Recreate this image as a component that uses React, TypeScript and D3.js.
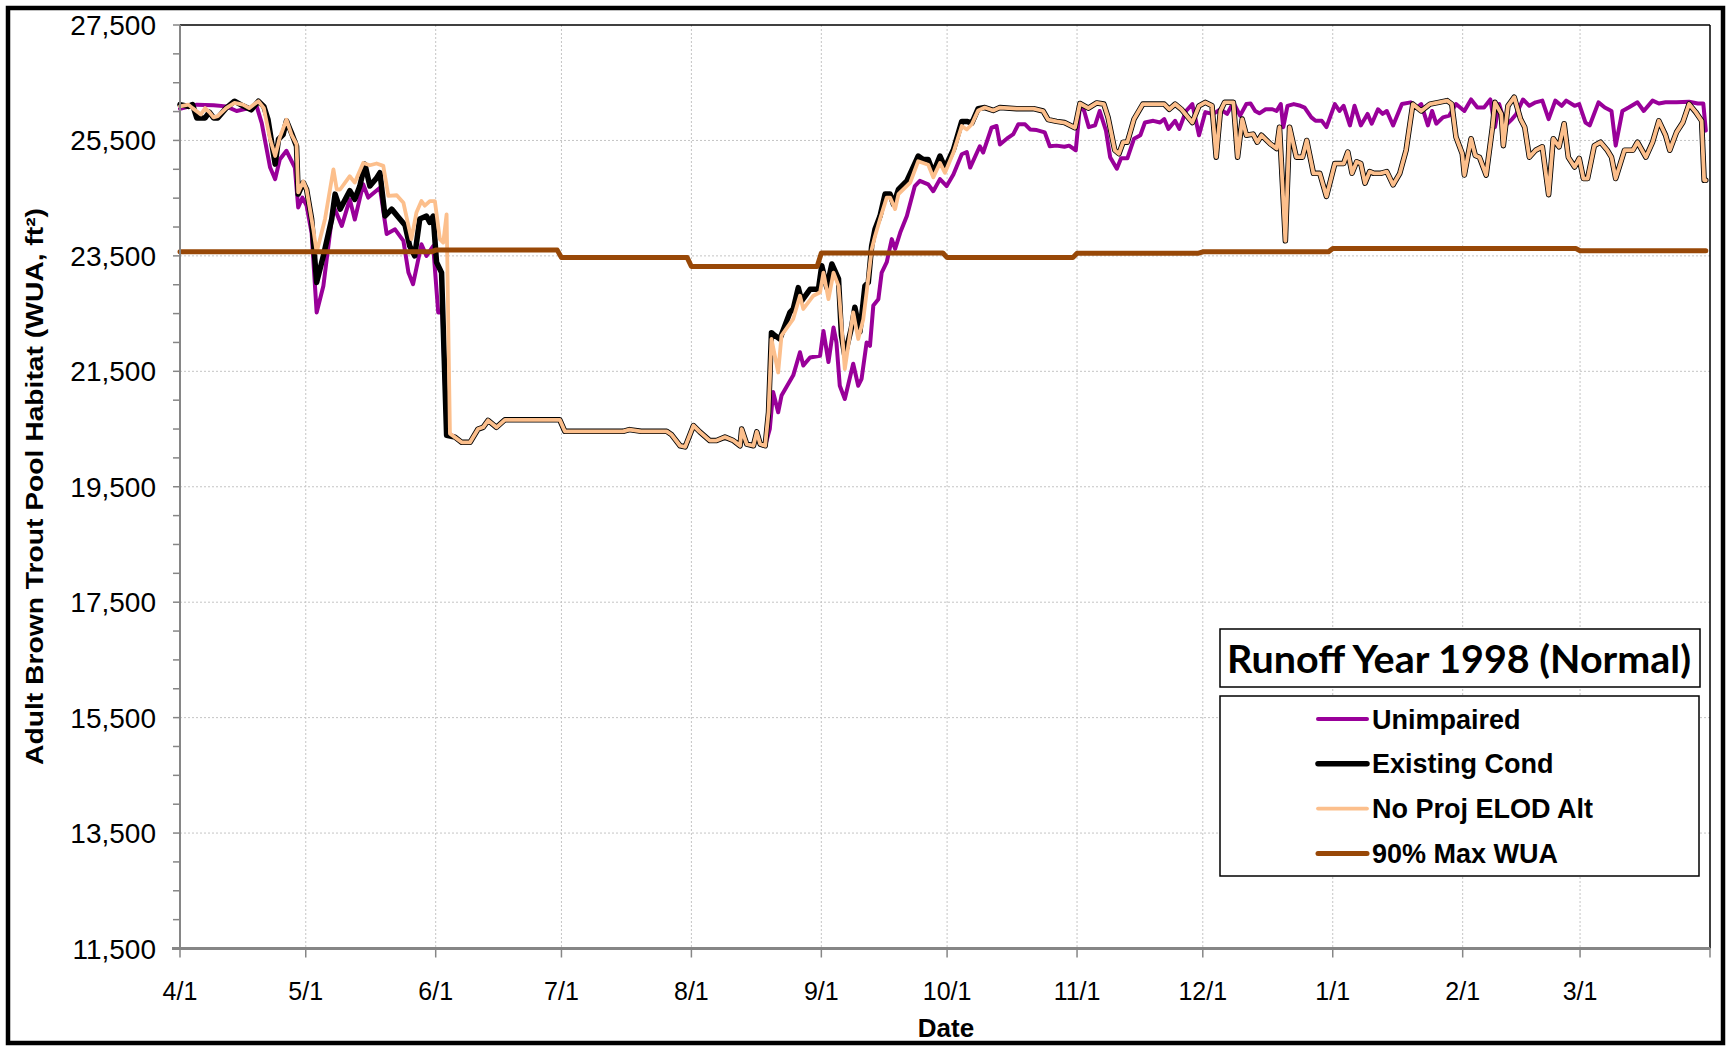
import React from 'react';
import * as d3 from 'd3';

type Pt = [number, number]; // [days since 4/1/1998, WUA ft²]

// --- data (day offset from 4/1, value) ---
const unimpairedSpring: Pt[] = [
  [0, 26050], [4, 26120], [8, 26110], [11, 26090], [13.5, 26010], [16.5, 26060], [18.3, 26090],
  [19.5, 25800], [21.5, 25030], [22.7, 24830], [23.8, 25170], [25.4, 25320], [27.4, 25030],
  [28.2, 24340], [29.2, 24510], [30.2, 24370], [31.4, 23900], [32.6, 22520], [34.2, 22980],
  [36.6, 24370], [38.6, 24020], [40.5, 24480], [41.7, 24130], [43.7, 24740], [44.9, 24510],
  [47.7, 24680], [49.3, 23880], [51.3, 23960], [53.3, 23760], [54.5, 23210], [55.6, 23010],
  [57.6, 23700], [58.8, 23500], [60.4, 23670], [61.6, 22520], [62.6, 22520], [63.6, 20450],
];

const existingSpring: Pt[] = [
  [0, 26120], [2, 26090], [3, 26120], [4, 25890], [6, 25890], [7, 25990], [8, 25890], [9, 25890],
  [11, 26060], [13, 26180], [15, 26100], [17, 26030], [18.7, 26180], [20, 26090], [21, 25860],
  [22.7, 25090], [23.5, 25520], [24.6, 25600], [25.4, 25840], [26.6, 25630], [27.8, 25400],
  [28.2, 24570], [29.4, 24770], [30.2, 24650], [31.4, 24140], [32.6, 23040], [34.2, 23500],
  [36.2, 24140], [37, 24570], [38.2, 24310], [40.5, 24630], [41.7, 24480], [42.9, 24710],
  [44.1, 25090], [45.3, 24710], [46.9, 24850], [47.7, 24940], [48.9, 24190], [50.5, 24310],
  [52.1, 24170], [53.7, 24030], [54.8, 23670], [56, 23500], [57.2, 24140], [58.8, 24190],
  [59.6, 24080], [60.4, 24190], [61.2, 23390], [62.4, 23210], [63.6, 20390],
];

const noProjSpring: Pt[] = [
  [0, 26090], [2, 26120], [3, 26060], [5, 25950], [6, 26060], [7, 25990], [8, 25900], [9, 25920],
  [11, 26060], [13, 26150], [15, 26120], [16.5, 26060], [18.7, 26180], [20, 26060], [21.5, 25520],
  [22.7, 25230], [23.8, 25550], [25.4, 25860], [26.6, 25600], [27.8, 25430], [28.2, 24600],
  [29.4, 24790], [30.2, 24650], [31.8, 23960], [32.6, 23560], [34.6, 24140], [36.6, 25000],
  [37.4, 24650], [38.2, 24650], [40.5, 24880], [41.7, 24770], [43.7, 25110], [45.3, 25070],
  [46.9, 25100], [48.5, 25060], [49.7, 24540], [51.7, 24550], [53.3, 24420], [55.2, 23790],
  [56.4, 24250], [57.6, 24450], [58.4, 24370], [59.6, 24450], [60.8, 24450], [62, 23790],
  [62.8, 23730], [63.6, 24220], [64.4, 20420],
];

// all three flow series sit on top of each other through the summer
const summerLow: Pt[] = [
  [65.6, 20360], [67.2, 20270], [69.2, 20270], [71.1, 20500], [72.3, 20530], [73.5, 20650],
  [75.5, 20530], [77.5, 20660], [90.6, 20660], [91.8, 20460], [105.7, 20460], [107.2, 20490],
  [110, 20460], [116.1, 20460], [117.3, 20400], [119.3, 20210], [120.5, 20190], [122.5, 20560],
  [124, 20450], [126.4, 20300], [128, 20300], [130, 20360], [132, 20300], [133.6, 20210],
  [134, 20500], [135.2, 20240], [136.8, 20210], [137.6, 20450], [138.4, 20240], [139.6, 20210],
];

const existingFall: Pt[] = [
  [140.4, 20790], [141.1, 22170], [141.9, 22120], [143.1, 22060], [144.3, 22290], [145.5, 22520],
  [146.3, 22580], [147.5, 22950], [148.3, 22720], [150.3, 22920], [152.3, 22920], [153.1, 23330],
  [154.3, 22950], [155.5, 23360], [157.1, 23100], [157.8, 22120], [158.6, 21770], [160.2, 22260],
  [161, 22610], [162.2, 22180], [163.4, 22980], [164.2, 23040], [165, 23670], [165.8, 23960],
  [167, 24190], [168.2, 24570], [169.4, 24570], [170.2, 24390], [171.4, 24650], [173.4, 24800],
  [174.5, 24970], [176.1, 25230], [177.3, 25170], [178.5, 25170], [179.7, 24940], [181.3, 25230],
  [182.5, 25030], [184.5, 25340], [186.5, 25830], [187.7, 25830], [188.9, 25800], [190.4, 26050],
];

const noProjFall: Pt[] = [
  [140.4, 20790], [141.1, 22060], [142.7, 21480], [143.5, 22120], [146.3, 22410], [147.9, 22810],
  [148.7, 22580], [151.1, 22810], [152.7, 22870], [153.5, 23210], [154.7, 22750], [155.9, 23210],
  [157.1, 22980], [158.6, 21540], [160.6, 22520], [161.8, 22060], [163, 22400], [163.8, 22870],
  [165, 23610], [165.8, 23840], [167, 24140], [168.6, 24510], [169.4, 24510], [170.6, 24310],
  [171.4, 24570], [174.2, 24770], [176.1, 25140], [178.5, 25080], [179.7, 24860], [181.3, 25110],
  [182.5, 24940], [184.5, 25290], [186.5, 25750], [187.7, 25690], [188.9, 25780], [190.4, 26020],
];

// existing and no-project lines coincide from October on
const regulatedWinter: Pt[] = [
  [192, 26070], [194, 26020], [195.6, 26070], [199.6, 26050], [203.6, 26050], [205.9, 26010],
  [207.1, 25860], [209.1, 25830], [211, 25810], [213.5, 25720], [214.7, 26140], [216.7, 26060],
  [218.7, 26150], [220.4, 26130], [221.4, 25900], [223, 25330], [224, 25270], [225, 25470],
  [226, 25470], [227.6, 25870], [229.7, 26130], [234.8, 26130], [236, 26040], [237.4, 26130],
  [238.9, 26040], [241.5, 25810], [243.1, 26100], [244.6, 26160], [246.2, 26100], [247.2, 25210],
  [248.2, 26010], [249.2, 26160], [251.3, 26160], [252.3, 25210], [253.4, 25870], [254.4, 25590],
  [256, 25610], [257, 25470], [258, 25590], [260.1, 25440], [261.6, 25360], [262.3, 25730],
  [263.7, 23760], [264.7, 25730], [266.3, 25210], [267.8, 25210], [268.8, 25500], [270.4, 24930],
  [271.9, 24930], [273.5, 24530], [275.5, 25100], [277.6, 25100], [278.6, 25300], [279.6, 24930],
  [280.7, 25130], [281.7, 25100], [282.7, 24760], [283.8, 24960], [284.8, 24930], [286.4, 24930],
  [287.9, 24960], [289.4, 24730], [291, 24930], [292.5, 25330], [294.1, 26130], [296.1, 26010],
  [298.2, 26130], [300.3, 26160], [302.3, 26190], [303.4, 26130], [304.4, 25560], [305.9, 25270],
  [306.4, 24900], [308, 25530], [309, 25240], [310, 25210], [311.6, 24900], [313.1, 25730],
  [313.7, 26160], [315.2, 25960], [315.7, 25410], [316.8, 26100], [318.3, 26250], [319.8, 25870],
  [320.8, 25730], [321.9, 25210], [323.4, 25330], [325, 25390], [326.5, 24560], [327.6, 25530],
  [329, 25390], [330.2, 25790], [331.2, 25210], [332.7, 25040], [333.8, 25190], [334.8, 24840],
  [335.8, 24840], [337.4, 25410], [338.9, 25470], [340.5, 25330], [341.5, 25210], [342.5, 24840],
  [344.6, 25330], [346.6, 25330], [347.7, 25470], [349.7, 25210], [351.3, 25470], [352.8, 25840],
  [354.4, 25590], [355.4, 25330], [357, 25640], [358.5, 25810], [360, 26130], [361.6, 25990],
  [363, 25840], [363.6, 24810], [364, 24810],
];

const unimpairedFallWinter: Pt[] = [
  [140.7, 20500], [141.5, 21140], [142.7, 20790], [143.5, 21080], [146.3, 21430], [147.9, 21830],
  [148.7, 21600], [150.3, 21740], [152.7, 21770], [153.5, 22200], [154.7, 21660], [155.9, 22260],
  [156.6, 22000], [157.4, 21250], [158.6, 21020], [160.6, 21630], [161.8, 21250], [162.6, 21370],
  [163.8, 22000], [164.6, 21940], [165.4, 22640], [166.6, 22750], [167.4, 23210], [168.6, 23390],
  [169.8, 23790], [170.6, 23620], [171.8, 23900], [173.4, 24190], [175.3, 24710], [176.5, 24800],
  [178.5, 24740], [179.7, 24620], [181.3, 24830], [182.9, 24710], [184.5, 24910], [186.5, 25260],
  [187.7, 25300], [188.5, 25030], [190.8, 25400], [191.6, 25290], [193.6, 25720], [194.8, 25750],
  [195.6, 25430], [197.6, 25550], [198.8, 25610], [200, 25780], [201.6, 25780], [202.8, 25690],
  [204.4, 25680], [206.3, 25640], [207.5, 25400], [209.1, 25410], [211, 25390], [212.1, 25410],
  [213.7, 25330], [214.7, 26100], [215.7, 26010], [216.8, 25730], [218.3, 25760], [219.4, 26010],
  [220.9, 25670], [221.9, 25210], [223.5, 25010], [224.5, 25190], [226, 25190], [227.6, 25530],
  [229.1, 25590], [230.2, 25810], [232.2, 25840], [233.8, 25810], [234.8, 25870], [235.8, 25700],
  [237.4, 25840], [238.4, 25700], [240, 26010], [241.5, 26130], [243.1, 25590], [244.6, 25990],
  [246.2, 25960], [247.2, 25990], [248.2, 26040], [249.8, 25960], [251.3, 26160], [252.9, 25930],
  [254.4, 26130], [255.4, 26140], [256.5, 26010], [257.5, 25970], [259, 26040], [260.6, 26040],
  [261.6, 26010], [262.6, 26130], [263.2, 25730], [264.2, 26100], [265.7, 26130], [267.3, 26100],
  [268.3, 26070], [269.9, 25900], [270.9, 25840], [272.4, 25840], [273.5, 25730], [275.5, 26130],
  [276.6, 26010], [277.6, 26100], [279.1, 25760], [280.2, 26100], [281.7, 25760], [283.3, 25960],
  [284.3, 25790], [285.8, 26040], [286.9, 25960], [287.9, 26010], [289.4, 25760], [291.5, 26130],
  [293.6, 26160], [295.1, 26070], [296.1, 26130], [297.7, 25760], [298.7, 26010], [299.7, 25790],
  [301.3, 25900], [302.8, 25930], [304.4, 26130], [306.4, 26010], [308, 26210], [309.5, 26070],
  [311.1, 26070], [312.6, 26210], [313.7, 25730], [314.7, 26130], [316.2, 25760], [317.8, 25870],
  [318.8, 25960], [320.4, 26210], [321.9, 26100], [323.4, 26160], [325, 26190], [326.5, 25870],
  [328.1, 26190], [329.6, 26100], [330.7, 26190], [332.7, 26100], [333.8, 26130], [335.3, 25810],
  [336.3, 25760], [338.4, 26160], [339.9, 26070], [341.5, 26010], [342.5, 25410], [344.1, 26010],
  [345.6, 26070], [347.7, 26160], [349.2, 26010], [351.3, 26190], [352.8, 26140], [354.4, 26160],
  [357, 26160], [360, 26170], [362.1, 26140], [363.4, 26140], [364, 25670],
];

// 90% of max WUA, one value per month (Apr .. Mar)
const monthStartDays = [0, 30, 61, 91, 122, 153, 183, 214, 244, 275, 306, 334, 365];
const maxWuaMonthly = [23570, 23570, 23600, 23470, 23315, 23550, 23470, 23546, 23570, 23626, 23626, 23590];

const yMajorTicks = [11500, 13500, 15500, 17500, 19500, 21500, 23500, 25500, 27500];
const legendLabels = ['Unimpaired', 'Existing Cond', 'No Proj ELOD Alt', '90% Max WUA'];

const unimpaired = [...unimpairedSpring, ...summerLow, ...unimpairedFallWinter];
const existing = [...existingSpring, ...summerLow, ...existingFall, ...regulatedWinter];
const noProj = [...noProjSpring, ...summerLow.slice(1), ...noProjFall, ...regulatedWinter];
const maxWua: Pt[] = maxWuaMonthly.flatMap((v, i) => [
  [monthStartDays[i], v] as Pt,
  [Math.min(monthStartDays[i + 1] - 1, 364), v] as Pt,
]);

const series = [
  { label: legendLabels[0], data: unimpaired, color: '#990099', width: 4 },
  { label: legendLabels[1], data: existing, color: '#000000', width: 5.5 },
  { label: legendLabels[2], data: noProj, color: '#FCBF8C', width: 3.8 },
  { label: legendLabels[3], data: maxWua, color: '#984807', width: 5 },
];

const DAY = 86400000;
const t0 = Date.UTC(1998, 3, 1);
const t1 = Date.UTC(1999, 3, 1);
const toDate = (d: number) => new Date(t0 + d * DAY);

const W = 1727;
const H = 1046;
const plot = { left: 180, right: 1710, top: 25, bottom: 948.5 };
const ARIAL = '"Liberation Sans", Arial, sans-serif';

export default function App() {
  const x = d3.scaleUtc().domain([new Date(t0), new Date(t1)]).range([plot.left, plot.right]);
  const y = d3.scaleLinear().domain([11500, 27500]).range([plot.bottom, plot.top]);

  const line = d3.line<Pt>()
    .x(d => x(toDate(d[0])))
    .y(d => y(d[1]));

  const months = d3.utcMonth.range(new Date(t0), new Date(t1));
  const xTicks = [...months, new Date(t1)];
  const fmtDate = d3.utcFormat('%-m/%-d');
  const fmtNum = d3.format(',');
  const yMinor = d3.range(11500, 27501, 500);

  const legend = { x: 1220, y: 696, w: 479, h: 180, rowY: 719, rowGap: 44.8 };

  return (
    <svg width={W} height={H} style={{ position: 'absolute', left: 0, top: 0, background: '#fff' }}>
      <rect x={0} y={0} width={W} height={H} fill="#fff" />

      {/* grid */}
      <g stroke="#c4c4c4" strokeWidth={1} strokeDasharray="2,2">
        {yMajorTicks.slice(1, -1).map(v => (
          <line key={v} x1={plot.left} x2={plot.right} y1={y(v)} y2={y(v)} />
        ))}
        {months.slice(1).map(m => (
          <line key={+m} x1={x(m)} x2={x(m)} y1={plot.top} y2={plot.bottom} />
        ))}
      </g>

      {/* plot frame top/right */}
      <line x1={plot.left} x2={plot.right} y1={plot.top} y2={plot.top} stroke="#000" strokeWidth={1.5} />
      <line x1={plot.right} x2={plot.right} y1={plot.top} y2={plot.bottom} stroke="#000" strokeWidth={1.5} />

      {/* series */}
      {series.map(s => (
        <path key={s.label} d={line(s.data) || ''} fill="none" stroke={s.color}
          strokeWidth={s.width} strokeLinejoin="round" strokeLinecap="round" />
      ))}

      {/* y axis */}
      <line x1={plot.left} x2={plot.left} y1={plot.top} y2={plot.bottom} stroke="#868686" strokeWidth={2} />
      {yMinor.map(v => (
        <line key={v} x1={plot.left - 7} x2={plot.left} y1={y(v)} y2={y(v)} stroke="#868686" strokeWidth={1.5} />
      ))}
      {yMajorTicks.map(v => (
        <text key={v} x={156} y={y(v) + 10} textAnchor="end" fontFamily={ARIAL} fontSize={28} fill="#000">
          {fmtNum(v)}
        </text>
      ))}

      {/* x axis */}
      <line x1={plot.left - 8} x2={plot.right} y1={plot.bottom} y2={plot.bottom} stroke="#868686" strokeWidth={3} />
      {xTicks.map(t => (
        <line key={+t} x1={x(t)} x2={x(t)} y1={plot.bottom} y2={plot.bottom + 9} stroke="#868686" strokeWidth={1.5} />
      ))}
      {months.map(m => (
        <text key={+m} x={x(m)} y={1000} textAnchor="middle" fontFamily={ARIAL} fontSize={25} fill="#000">
          {fmtDate(m)}
        </text>
      ))}

      {/* axis titles */}
      <text x={946} y={1037} textAnchor="middle" fontFamily={ARIAL} fontSize={26} fontWeight="bold">Date</text>
      <text transform="translate(43,486.5) rotate(-90)" textAnchor="middle" fontFamily={ARIAL}
        fontSize={24} fontWeight="bold" textLength={557} lengthAdjust="spacingAndGlyphs">
        Adult Brown Trout Pool Habitat (WUA, ft²)
      </text>

      {/* legend title */}
      <rect x={1220} y={629} width={480} height={58} fill="#fff" stroke="#000" strokeWidth={1.5} />
      <text x={1227} y={673} fontFamily='Lato, "Open Sans", sans-serif' fontSize={38} fontWeight="bold"
        textLength={464} lengthAdjust="spacingAndGlyphs">
        Runoff Year 1998 (Normal)
      </text>

      {/* legend */}
      <rect x={legend.x} y={legend.y} width={legend.w} height={legend.h} fill="#fff" stroke="#000" strokeWidth={1.5} />
      {series.map((s, i) => {
        const ly = legend.rowY + i * legend.rowGap;
        return (
          <g key={s.label}>
            <line x1={1318} x2={1367} y1={ly} y2={ly} stroke={s.color} strokeWidth={s.width} strokeLinecap="round" />
            <text x={1372} y={ly + 9.5} fontFamily={ARIAL} fontSize={27} fontWeight="bold">{s.label}</text>
          </g>
        );
      })}

      {/* outer border */}
      <rect x={8} y={8} width={1715} height={1035} fill="none" stroke="#000" strokeWidth={4.5} />
    </svg>
  );
}
